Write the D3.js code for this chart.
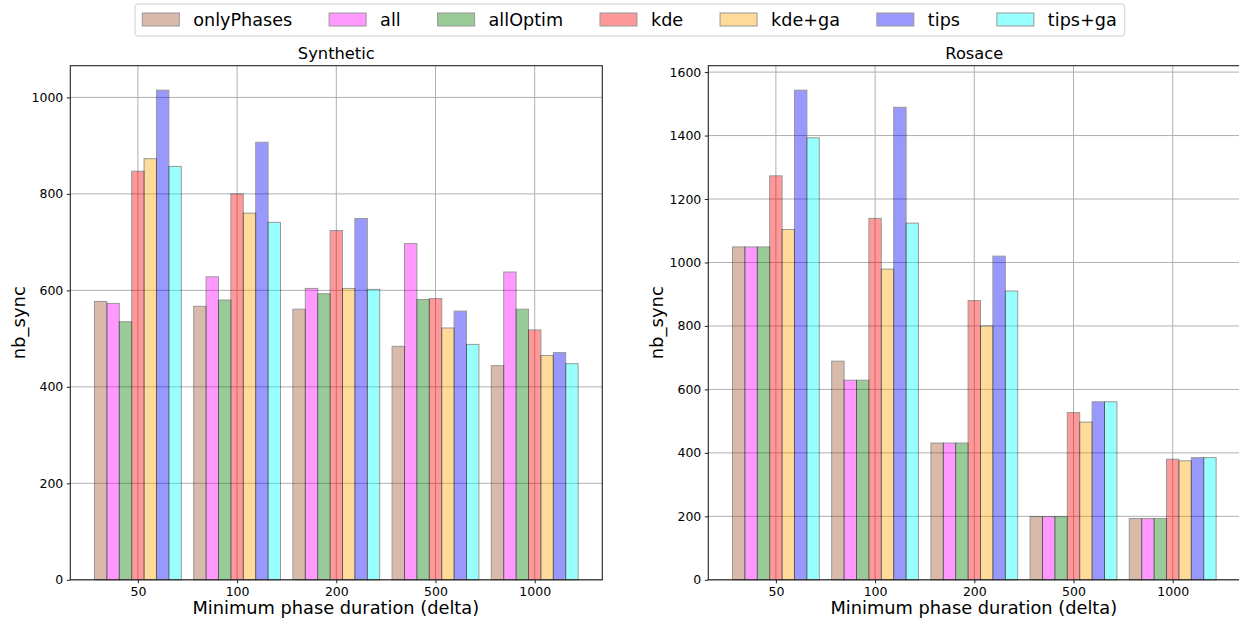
<!DOCTYPE html>
<html><head><meta charset="utf-8">
<script src="https://cdn.jsdelivr.net/npm/d3@7"></script>
<style>
body{margin:0;background:#fff;}
svg{display:block;font-family:"DejaVu Sans",sans-serif;}
</style></head>
<body><svg id="c" width="1239" height="621"></svg>
<script>
const categories = ["50", "100", "200", "500", "1000"];
const seriesNames = ["onlyPhases", "all", "allOptim", "kde", "kde+ga", "tips", "tips+ga"];
const seriesColors = ["#a0522d", "#ff00ff", "#008000", "#ff0000", "#ffa500", "#0000ff", "#00ffff"];

const syntheticValues = [
  [577, 567, 561, 484, 444],
  [573, 628, 604, 697, 638],
  [535, 580, 593, 581, 561],
  [847, 800, 724, 583, 518],
  [873, 760, 604, 522, 465],
  [1015, 907, 749, 557, 471],
  [857, 741, 602, 488, 448]
];
const rosaceValues = [
  [1049, 689, 431, 199, 193],
  [1049, 629, 431, 199, 193],
  [1049, 629, 431, 199, 193],
  [1273, 1139, 880, 527, 380],
  [1104, 979, 800, 497, 375],
  [1543, 1489, 1020, 561, 385],
  [1393, 1124, 910, 561, 385]
];
const syntheticTicks = [0, 200, 400, 600, 800, 1000];
const rosaceTicks = [0, 200, 400, 600, 800, 1000, 1200, 1400, 1600];

const svg = d3.select("#c");
const barW = 0.125;
const nS = seriesNames.length;

function panel(x0, title, values, ticks) {
  const top = 65.7, bottom = 579.8, width = 532;
  const lo = -barW / 2, hi = (categories.length - 1) + (nS - 1) * barW + barW / 2;
  const m = (hi - lo) * 0.05;
  const x = d3.scaleLinear().domain([lo - m, hi + m]).range([x0, x0 + width]);
  const ymax = d3.max(values.flat()) * 1.05;
  const y = d3.scaleLinear().domain([0, ymax]).range([bottom, top]);
  const g = svg.append("g");
  const tickPos = categories.map((c, i) => i + 3 * barW);

  // grid
  g.append("g").selectAll("line.h").data(ticks).join("line")
    .attr("x1", x0).attr("x2", x0 + width)
    .attr("y1", d => y(d)).attr("y2", d => y(d))
    .attr("stroke", "#b0b0b0").attr("stroke-width", 1);
  g.append("g").selectAll("line.v").data(tickPos).join("line")
    .attr("x1", d => x(d)).attr("x2", d => x(d))
    .attr("y1", top).attr("y2", bottom)
    .attr("stroke", "#b0b0b0").attr("stroke-width", 1);

  // bars
  seriesNames.forEach((s, j) => {
    g.append("g").selectAll("rect").data(values[j]).join("rect")
      .attr("x", (d, i) => x(i + j * barW - barW / 2))
      .attr("width", x(barW) - x(0))
      .attr("y", d => y(d))
      .attr("height", d => y(0) - y(d))
      .attr("fill", seriesColors[j])
      .attr("stroke", "#000").attr("stroke-width", 1)
      .attr("opacity", 0.4);
  });

  // spines
  g.append("rect").attr("x", x0).attr("y", top).attr("width", width).attr("height", bottom - top)
    .attr("fill", "none").attr("stroke", "#222").attr("stroke-width", 1.1);

  // y axis
  const ya = d3.axisLeft(y).tickValues(ticks).tickSize(3.5).tickPadding(3.5).tickFormat(d3.format("d"));
  const yg = g.append("g").attr("transform", `translate(${x0},0)`).call(ya);
  yg.select(".domain").remove();
  yg.selectAll("text").attr("font-size", 12.5).attr("font-family", "DejaVu Sans").attr("fill", "#000");
  yg.selectAll("line").attr("stroke", "#222");

  // x axis
  const xa = d3.axisBottom(x).tickValues(tickPos).tickSize(3.5).tickPadding(3.5).tickFormat((d, i) => categories[i]);
  const xg = g.append("g").attr("transform", `translate(0,${bottom})`).call(xa);
  xg.select(".domain").remove();
  xg.selectAll("text").attr("font-size", 12.5).attr("font-family", "DejaVu Sans").attr("fill", "#000");
  xg.selectAll("line").attr("stroke", "#222");

  // labels
  g.append("text").attr("x", x0 + width / 2).attr("y", 59).attr("text-anchor", "middle")
    .attr("font-size", 16.3).text(title);
  g.append("text").attr("x", (x0 + x0 + width) / 2 - 0.5).attr("y", 614).attr("text-anchor", "middle")
    .attr("font-size", 17.8).text("Minimum phase duration (delta)");
  g.append("text").attr("transform", `translate(${x0 - 45},${(top + bottom) / 2}) rotate(-90)`)
    .attr("text-anchor", "middle").attr("font-size", 18).text("nb_sync");
}

panel(70.3, "Synthetic", syntheticValues, syntheticTicks);
panel(708.3, "Rosace", rosaceValues, rosaceTicks);

// legend
const lg = svg.append("g");
const frame = lg.append("rect").attr("x", 135).attr("y", 4).attr("height", 32).attr("rx", 3)
  .attr("fill", "#fff").attr("stroke", "#d0d0d0").attr("stroke-width", 1);
let cx = 142.3;
const gap = 36.9;
seriesNames.forEach((s, j) => {
  lg.append("rect").attr("x", cx).attr("y", 13).attr("width", 37).attr("height", 13)
    .attr("fill", seriesColors[j]).attr("stroke", "#000").attr("stroke-width", 1).attr("opacity", 0.4);
  const t = lg.append("text").attr("x", cx + 51).attr("y", 25.5).attr("font-size", 17.6).text(s);
  cx = cx + 51 + t.node().getComputedTextLength() + gap;
});
frame.attr("width", cx - gap + 8 - 135);
</script></body></html>
